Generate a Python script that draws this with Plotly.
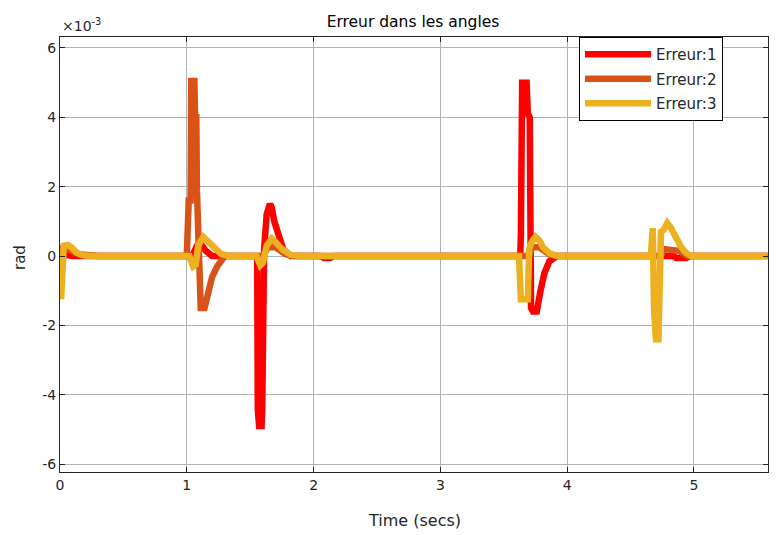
import plotly.graph_objects as go

# values in units of 1e-3 rad
t1 = [0, 0.02, 0.1, 1.02, 1.05, 1.08, 1.11, 1.15, 1.2, 1.555, 1.56, 1.57, 1.59, 1.595, 1.61, 1.63, 1.655, 1.67,
      1.69, 1.72, 1.76, 1.82, 2.05, 2.08, 2.13, 2.16, 3.63, 3.635, 3.645, 3.68, 3.69, 3.705, 3.715, 3.73, 3.76,
      3.79, 3.82, 3.86, 3.92, 4.84, 4.86, 4.94, 4.97, 5.58]
e1 = [0.3, 0.05, 0.0, 0.0, 0.05, 0.3, 0.35, 0.15, 0.0, 0.0, -4.4, -4.9, -4.9, -4.4, 0.2, 1.2, 1.5, 1.4,
      1.0, 0.6, 0.2, 0.0, 0.0, -0.06, -0.06, 0.0, 0.0, 0.6, 5.0, 5.0, 4.1, 4.0, -1.5, -1.6, -1.6,
      -1.0, -0.5, -0.15, 0.0, 0.0, -0.06, -0.06, 0.0, 0.0]

t2 = [0, 0.02, 0.06, 0.15, 0.3, 1.0, 1.015, 1.03, 1.035, 1.06, 1.065, 1.075, 1.08, 1.09, 1.11, 1.14, 1.17,
      1.2, 1.24, 1.3, 1.6, 1.64, 1.7, 1.78, 1.85, 3.7, 3.72, 3.78, 3.86, 3.92, 4.74, 4.76, 4.88, 4.95, 5.58]
e2 = [0.0, 0.2, 0.2, 0.05, 0.0, 0.0, 1.6, 1.6, 5.05, 5.05, 4.0, 4.0, 1.9, 0.0, -1.5, -1.5, -1.0,
      -0.6, -0.3, 0.0, 0.0, 0.25, 0.25, 0.05, 0.0, 0.0, 0.25, 0.25, 0.05, 0.0, 0.0, 0.2, 0.15, 0.0, 0.0]

t3 = [0, 0.01, 0.03, 0.06, 0.09, 0.13, 0.18, 0.25, 1.02, 1.05, 1.07, 1.09, 1.13, 1.16, 1.2, 1.27, 1.33,
      1.55, 1.58, 1.6, 1.63, 1.67, 1.7, 1.75, 1.82, 1.9, 3.62, 3.635, 3.69, 3.7, 3.72, 3.75, 3.78, 3.81,
      3.86, 3.92, 4.66, 4.675, 4.685, 4.7, 4.72, 4.73, 4.74, 4.76, 4.79, 4.82, 4.86, 4.9, 4.94, 4.98, 5.58]
e3 = [-1.15, -1.15, 0.3, 0.32, 0.25, 0.1, 0.02, 0.0, 0.0, -0.3, -0.25, 0.3, 0.55, 0.45, 0.28, 0.06, 0.0,
      0.0, -0.27, -0.2, 0.3, 0.5, 0.4, 0.2, 0.03, 0.0, 0.0, -1.25, -1.25, 0.2, 0.4, 0.55, 0.45, 0.25,
      0.08, 0.0, 0.0, 0.8, -1.5, -2.4, -2.4, -1.0, 0.7, 0.75, 0.95, 0.8, 0.5, 0.25, 0.08, 0.0, 0.0]

names = ["Erreur:1", "Erreur:2", "Erreur:3"]
colors = ["#ff0000", "#d95319", "#edb120"]
xticks = [0, 1, 2, 3, 4, 5]
yticks = [-6, -4, -2, 0, 2, 4, 6]
yticklabels = ["-6", "-4", "-2", "0", "2", "4", "6"]

FONT = "DejaVu Sans, sans-serif"
TXT = "#262626"
# page body has an 8px margin: figure is 8px smaller, margins shifted by 8px
W, H = 773, 527
L, R, T, B = 52, 13, 29, 63
PW, PH = W - L - R, H - T - B

fig = go.Figure()
for i, (t, e) in enumerate([(t1, e1), (t2, e2), (t3, e3)]):
    fig.add_trace(go.Scatter(x=t, y=e, mode="lines", name=names[i], legendgroup=names[i],
                             line=dict(color=colors[i], width=6.5)))

axis_common = dict(showgrid=True, gridcolor="#b3b3b3", gridwidth=1, zeroline=False,
                   showline=True, linecolor=TXT, linewidth=1, mirror="ticks",
                   ticks="inside", ticklen=5, tickcolor=TXT,
                   tickfont=dict(family=FONT, size=14, color=TXT))
fig.update_xaxes(range=[0, 5.584], tickvals=xticks, **axis_common)
fig.update_yaxes(range=[-6.23, 6.317], tickvals=yticks, ticktext=yticklabels, **axis_common)

fig.update_layout(
    width=W, height=H,
    margin=dict(l=L, r=R, t=T, b=B, autoexpand=False),
    paper_bgcolor="white", plot_bgcolor="white",
    title=dict(text="Erreur dans les angles", x=(413 - 8) / W, xanchor="center", y=1 - 14 / H,
               yanchor="middle", yref="container", font=dict(family=FONT, size=15.5, color="#000000")),
    showlegend=True,
    legend=dict(x=(723 - 60) / PW, xanchor="right", y=1, yanchor="top",
                bgcolor="white", bordercolor="#000000", borderwidth=1,
                font=dict(family=FONT, size=15, color=TXT),
                itemwidth=66, tracegroupgap=2),
    annotations=[
        dict(text="Time (secs)", x=0.5, y=-(520 - 472) / PH, xref="paper", yref="paper",
             showarrow=False, xanchor="center", yanchor="middle",
             font=dict(family=FONT, size=16, color=TXT)),
        dict(text="rad", x=(20 - 60) / PW, y=(472 - 258) / PH, xref="paper", yref="paper",
             showarrow=False, textangle=-90, xanchor="center", yanchor="middle",
             font=dict(family=FONT, size=15, color=TXT)),
        dict(text="×10<sup>-3</sup>", x=0, y=1, xref="paper", yref="paper", showarrow=False,
             xanchor="left", yanchor="bottom", yshift=1,
             font=dict(family=FONT, size=14, color=TXT)),
    ],
)
fig.write_html("out.html")
